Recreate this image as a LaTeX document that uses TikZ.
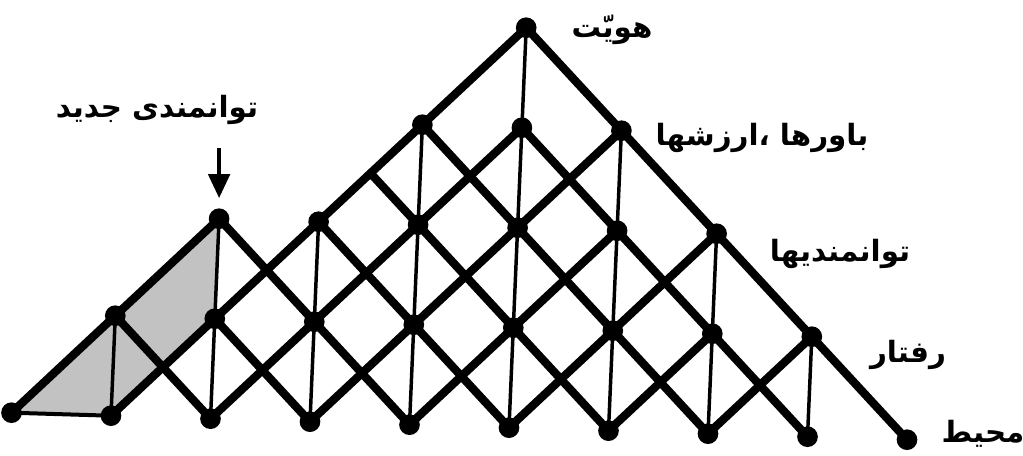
\documentclass[tikz,border=0pt]{standalone}
\usepackage{fontspec}
\newfontfamily\fa[Script=Arabic]{DejaVu Sans}
\TeXXeTstate=1
\usetikzlibrary{calc,arrows.meta,backgrounds}
\tikzset{
  dot/.style={circle,fill=black,inner sep=0pt,minimum size=15.5pt},
  thickline/.style={line width=6.2pt,line cap=round},
  vline/.style={line width=2.6pt},
  baseline/.style={line width=3pt},
  shade/.style={fill=black!24},
  lbl/.style={font=\fa\bfseries\fontsize{22}{26}\selectfont,inner sep=0pt},
  arr/.style={line width=3pt,-{Triangle[width=16pt,length=18pt]}}
}
\begin{document}
\begin{tikzpicture}[x=0.75pt,y=-0.75pt]
\useasboundingbox (0,0) rectangle (1023,455);
\begin{scope}[shift={(11.5,412.7)},x={(74.625pt,-2.25pt)},y={(3.225pt,75pt)}]
  \foreach \r/\lo/\hi in {4/5/5,3/4/6,2/2/7,1/1/8,0/0/9}
    \foreach \c in {\lo,...,\hi}
      \node[dot] (n\c\r) at (\c,\r) {};
\end{scope}
\coordinate (h1) at ($(n43)!0.5!(n32)$);
\begin{scope}[on background layer]
  \fill[shade] (n00.center) -- (n22.center) -- (n21.center) -- (n10.center) -- cycle;
  % down-right lines
  \draw[thickline] (n54.center) -- (n90.center);
  \draw[thickline] (n53.center) -- (n80.center);
  \draw[thickline] (n43.center) -- (n70.center);
  \draw[thickline] (h1) -- (n60.center);
  \draw[thickline] (n32.center) -- (n50.center);
  \draw[thickline] (n22.center) -- (n40.center);
  \draw[thickline] (n21.center) -- (n30.center);
  \draw[thickline] (n11.center) -- (n20.center);
  % up-right lines
  \draw[thickline] (n00.center) -- (n22.center);
  \draw[thickline] (n10.center) -- (n54.center);
  \draw[thickline] (n20.center) -- (n53.center);
  \draw[thickline] (n30.center) -- (n63.center);
  \draw[thickline] (n40.center) -- (n62.center);
  \draw[thickline] (n50.center) -- (n72.center);
  \draw[thickline] (n60.center) -- (n71.center);
  \draw[thickline] (n70.center) -- (n81.center);
  % verticals
  \draw[vline] (n54.center) -- (n53.center);
  \foreach \c in {4,5,6} { \draw[vline] (n\c3.center) -- (n\c2.center); }
  \foreach \c in {2,...,7} { \draw[vline] (n\c2.center) -- (n\c1.center); }
  \foreach \c in {1,...,8} { \draw[vline] (n\c1.center) -- (n\c0.center); }
  \draw[baseline] (n00.center) -- (n10.center);
\end{scope}
% labels
\node[lbl] (t1) at (612,30) {\beginR هویّت\endR};
\node[lbl] (t2) at (762,138) {\beginR باورها ،ارزشها\endR};
\node[lbl] (t3) at (840,254) {\beginR توانمندیها\endR};
\node[lbl] (t4) at (908,355) {\beginR رفتار\endR};
\node[lbl] (t5) at (983,434) {\beginR محیط\endR};
\node[lbl] (t6) at (157,110) {\beginR توانمندی جدید\endR};
\coordinate (y148) at (0,148);
\coordinate (a0) at (n22 |- y148);
\draw[arr,shorten >=7.5pt] (a0) -- (n22.north);
\end{tikzpicture}
\end{document}
